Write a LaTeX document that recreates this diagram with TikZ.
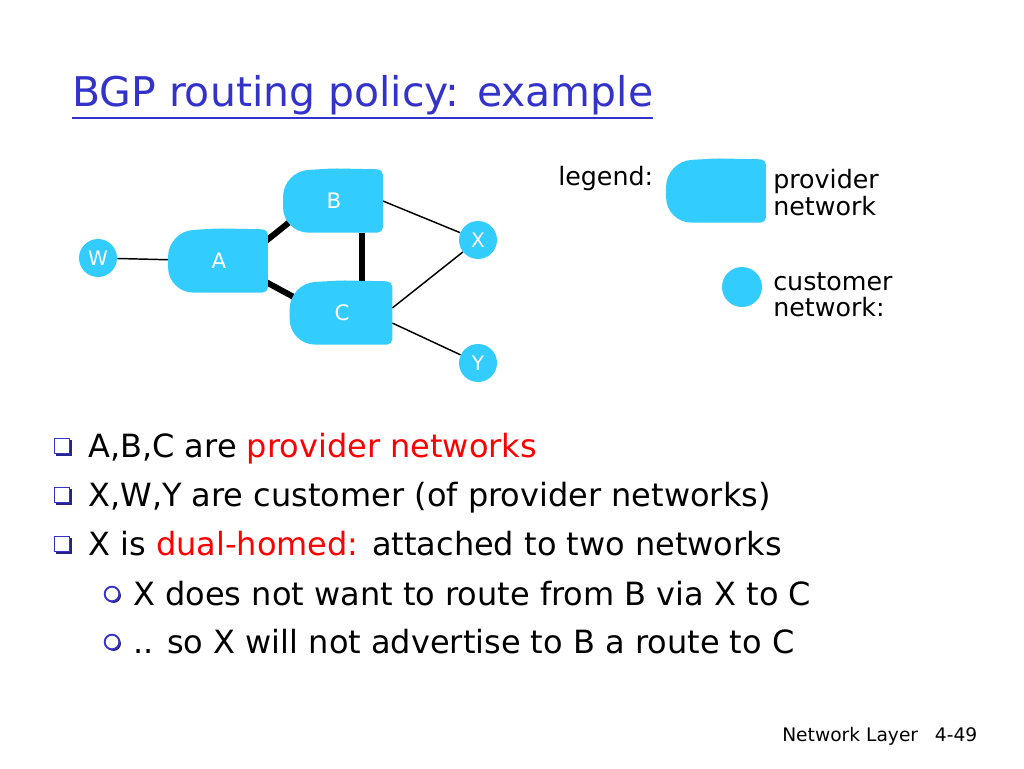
\documentclass[tikz,border=0pt]{standalone}
\usepackage{fontspec}
\setmainfont{DejaVu Sans}
\usepackage{tikz}
\usetikzlibrary{positioning,calc,shadows,backgrounds}
\definecolor{netcyan}{RGB}{51,204,255}
\definecolor{slideblue}{RGB}{51,51,204}
\definecolor{hotred}{RGB}{255,0,0}
\tikzset{provider/.style={minimum width=73pt, minimum height=47pt, inner sep=0pt,
    text=white, font=\fontsize{16}{16}\selectfont},
  customer/.style={circle, fill=netcyan, minimum size=28.5pt, inner sep=0pt,
    text=white, font=\fontsize{15}{15}\selectfont},
  trunk/.style={line width=4.5pt},
  access/.style={line width=1.1pt},
  sqbullet/.style={draw=slideblue, fill=white, line width=1.2pt, minimum size=11.5pt, inner sep=0pt,
    drop shadow={shadow xshift=1.5pt, shadow yshift=-1.5pt, fill=slideblue!70!black, opacity=1}},
  cbullet/.style={circle, draw=slideblue, fill=white, line width=1.4pt, minimum size=11pt, inner sep=0pt,
    drop shadow={shadow xshift=1.2pt, shadow yshift=-1.2pt, fill=slideblue!60!black, opacity=1}},
  bullettext/.style={anchor=base west, inner sep=0pt, font=\fontsize{24}{24}\selectfont},
  legendtext/.style={inner sep=0pt, align=left, font=\fontsize{19}{20}\selectfont}}
\newcommand{\provblob}[1]{%
  \fill[netcyan, rounded corners=19pt] ($(#1.north)+(0,-1)$) -- ($(#1.north west)+(-2,2)$)
    -- ($(#1.south west)+(-2,0)$) -- (#1.south) [rounded corners=4pt] -- (#1.south east) -- (#1.north east) -- cycle;}

\begin{document}
\begin{tikzpicture}[x=0.75pt, y=-0.75pt]
\useasboundingbox (0,0) rectangle (1024,768);
\node[anchor=base west, inner sep=0pt, text=slideblue, font=\fontsize{30.7}{31}\selectfont] (title) at (72,106) {BGP routing policy: example};
\draw[slideblue, line width=2pt] ($(title.base west)+(0,12)$) -- ($(title.base east)+(0,12)$);

\node[provider] (A) at (219,261) {A};
\node[provider] (B) at (334,201) {B};
\node[provider, minimum width=75pt] (C) at (342,313) {C};
\node[customer] (W) at (98,258) {W};
\node[customer] (X) at (478,240) {X};
\node[customer] (Y) at (478,363) {Y};

\node[legendtext, anchor=base west] (legend) at (558,185) {legend:};
\node[provider] (lgprov) at (717,191) {};
\node[legendtext, anchor=north west] (lgprovtxt) at (773,169) {provider\\network};
\node[customer, minimum size=30pt] (lgcust) at (742,287) {};
\node[legendtext, anchor=north west] (lgcusttxt) at (773,272) {customer\\network:};

\begin{pgfonlayer}{background}
\fill[white] (0,0) rectangle (1024,768);
\coordinate (bc) at ($(B.south)+(28,0)$);
\path[trunk]
  ($(A.north east)+(-10,18)$) edge ($(B.south west)+(15,-19)$)
  ($(A.south east)+(-10,-15)$) edge ($(C.west)+(13,-10)$)
  (bc) edge (bc |- C.north);
\path[access]
  (W) edge (A.center)
  (B.east) edge (X)
  ($(C.east)+(0,-5)$) edge (X)
  ($(C.east)+(0,10)$) edge (Y);
\provblob{A} \provblob{B} \provblob{C} \provblob{lgprov}
\end{pgfonlayer}

\foreach \n/\yy in {1/446,2/495,3/544}
  \node[sqbullet] (sq\n) at (62,\yy) {};
\foreach \n/\yy in {4/594,5/642}
  \node[cbullet] (ci\n) at (112,\yy) {};
\node[bullettext] (l1) at (88,457) {A,B,C are \textcolor{hotred}{provider networks}};
\node[bullettext] (l2) at (88,506) {X,W,Y are customer (of provider networks)};
\node[bullettext] (l3) at (88,555) {X is \textcolor{hotred}{dual-homed:} attached to two networks};
\node[bullettext] (l4) at (133,605) {X does not want to route from B via X to C};
\node[bullettext] (l5) at (133,653) {.. so X will not advertise to B a route to C};

\node[anchor=base west, inner sep=0pt, font=\fontsize{14}{14}\selectfont] (footer) at (782,741) {Network Layer\hspace{0.9em}4-49};
\end{tikzpicture}
\end{document}
